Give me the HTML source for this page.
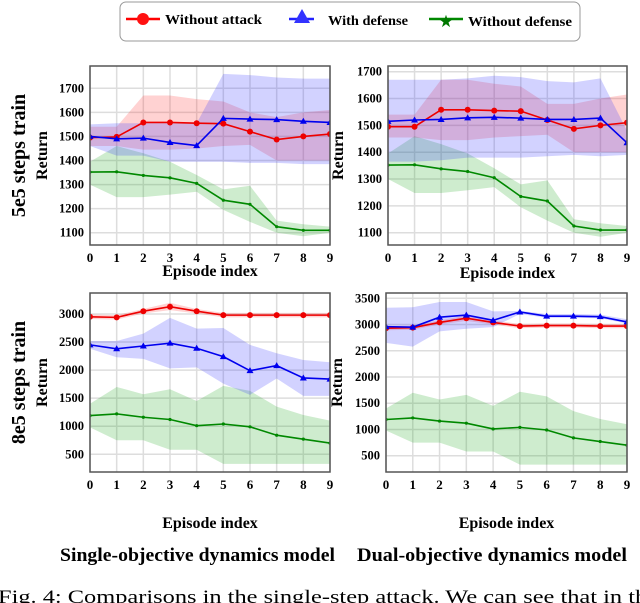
<!DOCTYPE html>
<html><head><meta charset="utf-8"><style>
body{margin:0;background:#fff;width:640px;height:603px;overflow:hidden;position:relative;font-family:"Liberation Serif",serif}
svg{position:absolute;left:0;top:0}
</style></head><body>
<svg id="fig" width="640" height="603" font-family="Liberation Serif, serif">
<g>
<rect x="120" y="2" width="460" height="39" rx="6" fill="#fff" stroke="#999" stroke-width="1"/>
<g><line x1="126" y1="19" x2="160" y2="19" stroke="#f00" stroke-width="2.5"/><circle cx="143" cy="19" r="6" fill="#f11"/><text x="165" y="24" font-size="14" font-weight="bold" textLength="97" lengthAdjust="spacingAndGlyphs">Without attack</text></g>
<g><line x1="289" y1="19" x2="314" y2="19" stroke="#22f" stroke-width="2.5"/><polygon points="302,9 310,23 294,23" fill="#33f"/><text x="328" y="25" font-size="14" font-weight="bold" textLength="80" lengthAdjust="spacingAndGlyphs">With defense</text></g>
<g><line x1="429" y1="19" x2="463" y2="19" stroke="#080" stroke-width="2.5"/><text x="446" y="27" font-size="17" fill="#070" text-anchor="middle">★</text><text x="468" y="26" font-size="14" font-weight="bold" textLength="104" lengthAdjust="spacingAndGlyphs">Without defense</text></g>
</g>
<text x="60" y="561" font-size="19" font-weight="bold" textLength="275" lengthAdjust="spacingAndGlyphs">Single-objective dynamics model</text>
<text x="357" y="561" font-size="19" font-weight="bold" textLength="270" lengthAdjust="spacingAndGlyphs">Dual-objective dynamics model</text>
<text x="-2" y="603" font-size="19" textLength="660" lengthAdjust="spacingAndGlyphs">Fig. 4: Comparisons in the single-step attack. We can see that in the</text>
</svg>
<script>
const episodes=[0,1,2,3,4,5,6,7,8,9];
// Top-left (5e5, single)
const tlRed=[1495,1498,1558,1558,1555,1553,1520,1487,1500,1510];
const tlRedHi=[1540,1540,1670,1670,1655,1645,1600,1580,1600,1610];
const tlRedLo=[1460,1460,1445,1445,1450,1460,1465,1400,1400,1400];
const tlBlue=[1500,1490,1493,1475,1462,1575,1572,1570,1563,1558];
const tlBlueHi=[1550,1555,1555,1560,1555,1760,1755,1745,1740,1740];
const tlBlueLo=[1460,1420,1420,1395,1395,1395,1390,1390,1385,1385];
const tlGreen=[1352,1353,1338,1328,1305,1235,1218,1125,1110,1110];
const tlGreenHi=[1395,1460,1430,1395,1340,1280,1295,1150,1135,1125];
const tlGreenLo=[1300,1248,1248,1258,1270,1195,1145,1100,1085,1100];
// Top-right (5e5, dual)
const trRed=[1495,1495,1558,1558,1555,1553,1520,1487,1500,1510];
const trRedHi=[1540,1540,1670,1670,1655,1645,1580,1580,1600,1615];
const trRedLo=[1455,1455,1445,1445,1455,1460,1465,1400,1400,1400];
const trBlue=[1515,1520,1522,1528,1530,1527,1522,1522,1527,1435];
const trBlueHi=[1670,1670,1670,1675,1685,1680,1665,1660,1675,1480];
const trBlueLo=[1365,1365,1370,1380,1380,1380,1385,1390,1385,1390];
// Bottom (8e5)
const blRed=[2950,2940,3050,3130,3050,2980,2980,2980,2980,2980];
const blRedHi=[2990,2980,3090,3200,3090,3020,3020,3020,3020,3020];
const blRedLo=[2910,2900,3010,3070,3010,2940,2940,2940,2940,2940];
const blBlue=[2450,2380,2430,2480,2390,2240,1990,2080,1860,1840];
const blBlueHi=[2520,2520,2650,2930,2740,2750,2450,2300,2180,2140];
const blBlueLo=[2380,2230,2200,2030,2050,1760,1560,1850,1540,1540];
const bGreen=[1190,1220,1160,1120,1010,1040,990,840,770,700];
const bGreenHi=[1400,1700,1570,1660,1450,1720,1630,1350,1200,1100];
const bGreenLo=[980,750,750,580,580,330,330,330,330,330];
const brRed=[2930,2940,3040,3120,3040,2970,2980,2980,2970,2970];
const brRedHi=[2970,2980,3080,3170,3080,3010,3020,3020,3010,3010];
const brRedLo=[2890,2900,3000,3070,3000,2930,2940,2940,2930,2930];
const brBlue=[2960,2950,3140,3180,3080,3240,3160,3160,3150,3050];
const brBlueHi=[3320,3330,3430,3430,3250,3260,3200,3200,3190,3100];
const brBlueLo=[2650,2580,2870,2920,2950,3200,3130,3130,3120,3020];
const topTicks=[1100,1200,1300,1400,1500,1600,1700];
const blTicks=[500,1000,1500,2000,2500,3000];
const brTicks=[500,1000,1500,2000,2500,3000,3500];

const NS="http://www.w3.org/2000/svg";
const svg=document.getElementById('fig');
function mk(tag,attrs,parent){const e=document.createElementNS(NS,tag);for(const k in attrs)e.setAttribute(k,attrs[k]);(parent||svg).appendChild(e);return e;}

function panel(name,box,yA,yB,ticks,series,rowLabel,retX,xlabY){
  const g=mk('g',{});
  
  
  const sx=i=>box.x0+(box.x1-box.x0)*i/9;
  const sy=v=>yA.py+(v-yA.v)*(yB.py-yA.py)/(yB.v-yA.v);
  mk('rect',{x:box.x0,y:box.y0,width:box.x1-box.x0,height:box.y1-box.y0,fill:'#fff'},g);
  episodes.forEach(i=>{mk('line',{x1:sx(i),x2:sx(i),y1:box.y0,y2:box.y1,stroke:'#ddd','stroke-width':1.5},g);
    const t=mk('text',{x:sx(i),y:box.y1+17,'font-size':13,'font-weight':'bold','text-anchor':'middle'},g);t.textContent=i;});
  ticks.forEach(v=>{mk('line',{x1:box.x0,x2:box.x1,y1:sy(v),y2:sy(v),stroke:'#ddd','stroke-width':1.5},g);
    const t=mk('text',{x:box.x0-6,y:sy(v)+4,'font-size':12.5,'font-weight':'bold','text-anchor':'end'},g);t.textContent=v;});
  const cp=mk('clipPath',{id:name+'-clip'},g);mk('rect',{x:box.x0,y:box.y0,width:box.x1-box.x0,height:box.y1-box.y0},cp);
  const pg=mk('g',{'clip-path':'url(#'+name+'-clip)'},g);
  series.forEach(s=>{
    const up=s.hi.map((v,i)=>sx(i)+','+sy(v)), lo=s.lo.map((v,i)=>sx(i)+','+sy(v)).reverse();
    const band=mk('polygon',{points:up.concat(lo).join(' '),fill:s.fill,'fill-opacity':0.22},pg);
    
    
  });
  series.forEach(s=>{
    const ln=mk('polyline',{points:s.m.map((v,i)=>sx(i)+','+sy(v)).join(' '),fill:'none',stroke:s.c,'stroke-width':1.6},pg);
    
    
    s.m.forEach((v,i)=>{let p;
      if(s.mk==='c')p=mk('circle',{cx:sx(i),cy:sy(v),r:3,fill:s.c},pg);
      else if(s.mk==='t')p=mk('polygon',{points:`${sx(i)},${sy(v)-3.5} ${sx(i)+3.5},${sy(v)+2.5} ${sx(i)-3.5},${sy(v)+2.5}`,fill:s.c},pg);
      else p=mk('circle',{cx:sx(i),cy:sy(v),r:1.6,fill:s.c},pg);
      
      });
  });
  mk('rect',{x:box.x0,y:box.y0,width:box.x1-box.x0,height:box.y1-box.y0,fill:'none',stroke:'#555','stroke-width':1.5},g);
  const cx=(box.x0+box.x1)/2, cy=(box.y0+box.y1)/2;
  const xl=mk('text',{x:cx,y:xlabY,'font-size':16,'font-weight':'bold','text-anchor':'middle'},g);xl.textContent='Episode index';
  
  const yl=mk('text',{x:0,y:0,'font-size':16,'font-weight':'bold','text-anchor':'middle',transform:`translate(${retX},${cy}) rotate(-90)`},g);yl.textContent='Return';
  
  if(rowLabel){const r=mk('text',{x:0,y:0,'font-size':20,'font-weight':'bold','text-anchor':'middle',transform:`translate(25,${cy}) rotate(-90)`},g);r.textContent=rowLabel;
    }
}
const R=(m,hi,lo)=>({key:'without-attack',m,hi,lo,c:'#e00',fill:'#f33',mk:'c'});
const B=(m,hi,lo)=>({key:'with-defense',m,hi,lo,c:'#00e',fill:'#33f',mk:'t'});
const G=(m,hi,lo)=>({key:'without-defense',m,hi,lo,c:'#080',fill:'#2a2',mk:'s'});
panel('panel-5e5-single',{x0:90,x1:330,y0:66,y1:245},{v:1700,py:88.3},{v:1100,py:232.7},topTicks,
  [G(tlGreen,tlGreenHi,tlGreenLo),R(tlRed,tlRedHi,tlRedLo),B(tlBlue,tlBlueHi,tlBlueLo)],'5e5 steps train',47,276);
panel('panel-5e5-dual',{x0:388,x1:627,y0:66,y1:245},{v:1700,py:71.7},{v:1100,py:232.7},topTicks,
  [G(tlGreen,tlGreenHi,tlGreenLo),R(trRed,trRedHi,trRedLo),B(trBlue,trBlueHi,trBlueLo)],null,343,278);
panel('panel-8e5-single',{x0:90,x1:330,y0:293,y1:472},{v:3000,py:314},{v:500,py:454.3},blTicks,
  [G(bGreen,bGreenHi,bGreenLo),B(blBlue,blBlueHi,blBlueLo),R(blRed,blRedHi,blRedLo)],'8e5 steps train',47,528);
panel('panel-8e5-dual',{x0:386,x1:627,y0:293,y1:472},{v:3500,py:298.3},{v:500,py:455.7},brTicks,
  [G(bGreen,bGreenHi,bGreenLo),R(brRed,brRedHi,brRedLo),B(brBlue,brBlueHi,brBlueLo)],null,342,528);
</script>
</body></html>
